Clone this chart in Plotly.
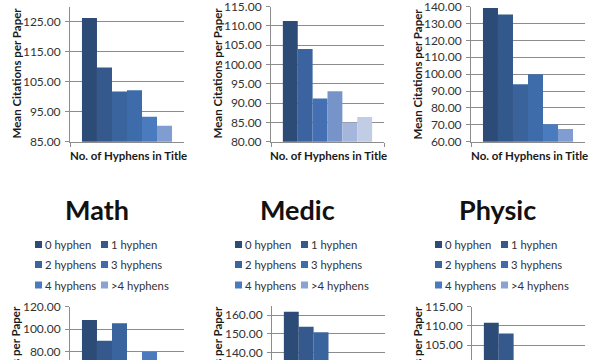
import plotly.graph_objects as go

W, H = 600, 360

series = ["0 hyphen", "1 hyphen", "2 hyphens", "3 hyphens", "4 hyphens", ">4 hyphens"]
category = ["No. of Hyphens in Title"]

# values per panel (top row: unnamed fields, bottom row: Math / Medic / Physic)
top_left_vals = [126.2, 109.7, 101.7, 102.1, 93.3, 90.3]
top_mid_vals = [111.3, 104.0, 91.2, 93.1, 85.0, 86.4]
top_right_vals = [139.2, 135.3, 94.0, 99.9, 70.3, 67.5]
math_vals = [108.2, 89.8, 105.2, 68.0, 80.0, 62.0]
medic_vals = [161.8, 153.7, 150.8, 130.0, 125.0, 120.0]
physic_vals = [110.8, 108.0, 98.0, 97.0, 95.0, 92.0]

top_left_ticks = [85, 95, 105, 115, 125]
top_mid_ticks = [80, 85, 90, 95, 100, 105, 110, 115]
top_right_ticks = [60, 70, 80, 90, 100, 110, 120, 130, 140]
math_ticks = [60, 80, 100, 120]
medic_ticks = [130, 140, 150, 160]
physic_ticks = [100, 105, 110, 115]

top_left_range = [85, 130]
top_mid_range = [80, 115]
top_right_range = [60, 140]
math_range = [72.6, 120]
medic_range = [135.9, 165]
physic_range = [101.1, 115]

bottom_titles = ["Math", "Medic", "Physic"]

legend_colors = ["#2d4b77", "#35598c", "#3a649e", "#3e6caa", "#4a7bbf", "#8aa3d3"]
colors_tl = ["#2d4b77", "#35598c", "#3a649e", "#3e6caa", "#4a7bbf", "#7f9dd1"]
colors_tm = ["#2d4b77", "#3b63a0", "#4470b3", "#7694c9", "#a4b6db", "#c1cce5"]
colors_tr = ["#2d4b77", "#33588b", "#3a639c", "#3e6baa", "#4a7bbf", "#7f9dd1"]

FONT = "Lato, 'Liberation Sans', Arial, sans-serif"
TXT = "#333333"
GRID = "#8c8c8c"

# panel pixel boxes: (x0, x1, ytop, ybottom)
panels = [
    dict(vals=top_left_vals, ticks=top_left_ticks, rng=top_left_range, colors=colors_tl, box=(70, 184, 6.6, 141.7), top=True),
    dict(vals=top_mid_vals, ticks=top_mid_ticks, rng=top_mid_range, colors=colors_tm, box=(271, 384, 6.6, 141.7), top=True),
    dict(vals=top_right_vals, ticks=top_right_ticks, rng=top_right_range, colors=colors_tr, box=(471, 585, 6.6, 141.7), top=True),
    dict(vals=math_vals, ticks=math_ticks, rng=math_range, colors=legend_colors, box=(70, 184, 306.7, 360), top=False),
    dict(vals=medic_vals, ticks=medic_ticks, rng=medic_range, colors=legend_colors, box=(272, 385, 305.7, 360), top=False),
    dict(vals=physic_vals, ticks=physic_ticks, rng=physic_range, colors=legend_colors, box=(472, 585, 306.7, 360), top=False),
]

fig = go.Figure()
layout = dict(
    width=W, height=H,
    margin=dict(l=0, r=0, t=0, b=0),
    paper_bgcolor="white", plot_bgcolor="white",
    barmode="group", bargap=0.21, bargroupgap=0,
    showlegend=False,
    font=dict(family=FONT, color=TXT, size=12),
)

def px(x):
    return x / W

def py(y):
    return 1 - y / H

annotations = []
shapes = []

for i, p in enumerate(panels, start=1):
    x0, x1, yt, yb = p["box"]
    xa = "x" if i == 1 else f"x{i}"
    ya = "y" if i == 1 else f"y{i}"
    for s, v, c in zip(series, p["vals"], p["colors"]):
        fig.add_trace(go.Bar(x=category, y=[v], name=s, marker=dict(color=c, line=dict(width=0)),
                             xaxis=xa, yaxis=ya, hoverinfo="name+y"))
    layout["xaxis" if i == 1 else f"xaxis{i}"] = dict(
        domain=[px(x0), px(x1)], anchor=ya, showticklabels=False,
        showline=p["top"], linecolor=GRID, linewidth=1,
        ticks="outside" if p["top"] else "", tickson="boundaries", ticklen=4, tickcolor=GRID,
        showgrid=False, zeroline=False, automargin=False, fixedrange=True,
    )
    layout["yaxis" if i == 1 else f"yaxis{i}"] = dict(
        domain=[py(yb), py(yt)], anchor=xa, range=p["rng"],
        tickmode="array", tickvals=p["ticks"], tickformat=".2f",
        showline=True, linecolor=GRID, linewidth=1,
        showgrid=True, gridcolor=GRID, gridwidth=1, zeroline=False,
        ticks="outside", ticklen=4, tickcolor=GRID, ticklabelstandoff=2,
        ticklabeloverflow="allow",
        tickfont=dict(family=FONT, size=12, color=TXT),
        automargin=False, fixedrange=True,
    )
    # y-axis title (bottom row is cut off by the figure edge, as in the source image)
    cy = 73.5 if p["top"] else 371.8
    annotations.append(dict(
        text="<b>Mean Citations per Paper</b>", textangle=-90,
        x=px(x0 - 54), y=py(cy), xref="paper", yref="paper",
        xanchor="center", yanchor="middle", showarrow=False,
        font=dict(family=FONT, size=11.5, color="#1a1a1a"),
    ))
    if p["top"]:
        annotations.append(dict(
            text="<b>No. of Hyphens in Title</b>",
            x=px((x0 + x1) / 2 + 1), y=py(155.7), xref="paper", yref="paper",
            xanchor="center", yanchor="middle", showarrow=False,
            font=dict(family=FONT, size=11.5, color="#1a1a1a"),
        ))

# bottom row titles and legends
for k, title in enumerate(bottom_titles):
    ox = 200 * k
    annotations.append(dict(
        text=f"<b>{title}</b>", x=px(ox + 97), y=py(209.3), xref="paper", yref="paper",
        xanchor="center", yanchor="middle", showarrow=False,
        font=dict(family=FONT, size=27, color="#111111"),
    ))
    rows_y = [244.5, 264.5, 285]
    cols_x = [35, 101]
    for j, (s, c) in enumerate(zip(series, legend_colors)):
        r, col = divmod(j, 2)
        sx = ox + cols_x[col]
        sy = rows_y[r]
        shapes.append(dict(type="rect", xref="paper", yref="paper",
                           x0=px(sx), x1=px(sx + 7), y0=py(sy + 3.5), y1=py(sy - 3.5),
                           fillcolor=c, line=dict(width=0)))
        annotations.append(dict(
            text=s, x=px(sx + 8), y=py(sy), xref="paper", yref="paper",
            xanchor="left", yanchor="middle", showarrow=False,
            font=dict(family=FONT, size=11.3, color=TXT),
        ))

layout["annotations"] = annotations
layout["shapes"] = shapes
fig.update_layout(**layout)

fig.write_html("out.html", config={"displayModeBar": False},
               post_script="document.body.style.margin='0px';document.body.style.overflow='hidden';")
